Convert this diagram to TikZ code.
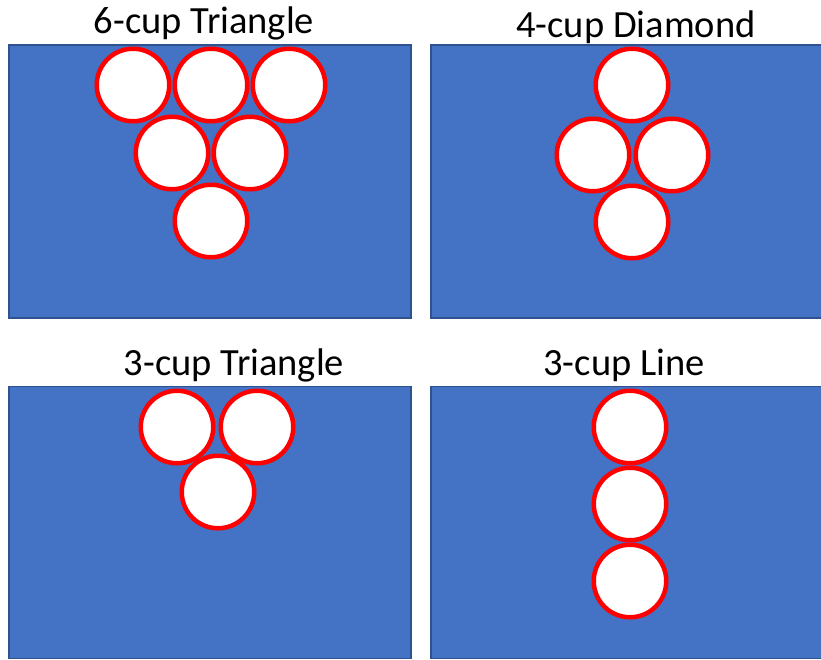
\documentclass[tikz,border=0pt]{standalone}
\usepackage{fontspec}
\setmainfont{Carlito}
\definecolor{panelblue}{HTML}{4472C4}
\definecolor{paneledge}{HTML}{2F528F}
\definecolor{cupred}{HTML}{FF0000}
\begin{document}
\begin{tikzpicture}[x=1pt,y=-1pt,
  panel/.style={rectangle, draw=paneledge, fill=panelblue, line width=1.3pt, inner sep=0pt},
  cup/.style={circle, draw=cupred, fill=white, line width=4.5pt, minimum size=72.5pt, inner sep=0pt},
  title/.style={font=\fontsize{38.5}{44}\selectfont, anchor=base, inner sep=0pt}]
  \useasboundingbox[fill=white] (0,0) rectangle (821,659);

  % table panels
  \node[panel, minimum width=402pt, minimum height=273pt] (pA) at (210,181.5) {};
  \node[panel, minimum width=394pt, minimum height=273pt] (pB) at (628,181.5) {};
  \node[panel, minimum width=402pt, minimum height=272pt] (pC) at (210,522.5) {};
  \node[panel, minimum width=394pt, minimum height=272pt] (pD) at (628,522.5) {};

  % titles
  \node[title] (tA) at (204,33) {6-cup Triangle};
  \node[title] (tB) at (636,37) {4-cup Diamond};
  \node[title] (tC) at (234,375) {3-cup Triangle};
  \node[title] (tD) at (624,375) {3-cup Line};

  % 6-cup triangle
  \node[cup] (a1) at (133,85) {};
  \node[cup] (a2) at (211,85) {};
  \node[cup] (a3) at (289,85) {};
  \node[cup] (a4) at (172,153) {};
  \node[cup] (a5) at (250,153) {};
  \node[cup] (a6) at (211,221) {};

  % 4-cup diamond
  \node[cup] (b1) at (632,85) {};
  \node[cup] (b2) at (593,155) {};
  \node[cup] (b3) at (672,155) {};
  \node[cup] (b4) at (632,222) {};

  % 3-cup triangle
  \node[cup] (c1) at (177,427) {};
  \node[cup] (c2) at (257,427) {};
  \node[cup] (c3) at (218,492) {};

  % 3-cup line
  \node[cup] (d1) at (630,427) {};
  \node[cup] (d2) at (630,504) {};
  \node[cup] (d3) at (630,581) {};
\end{tikzpicture}
\end{document}
